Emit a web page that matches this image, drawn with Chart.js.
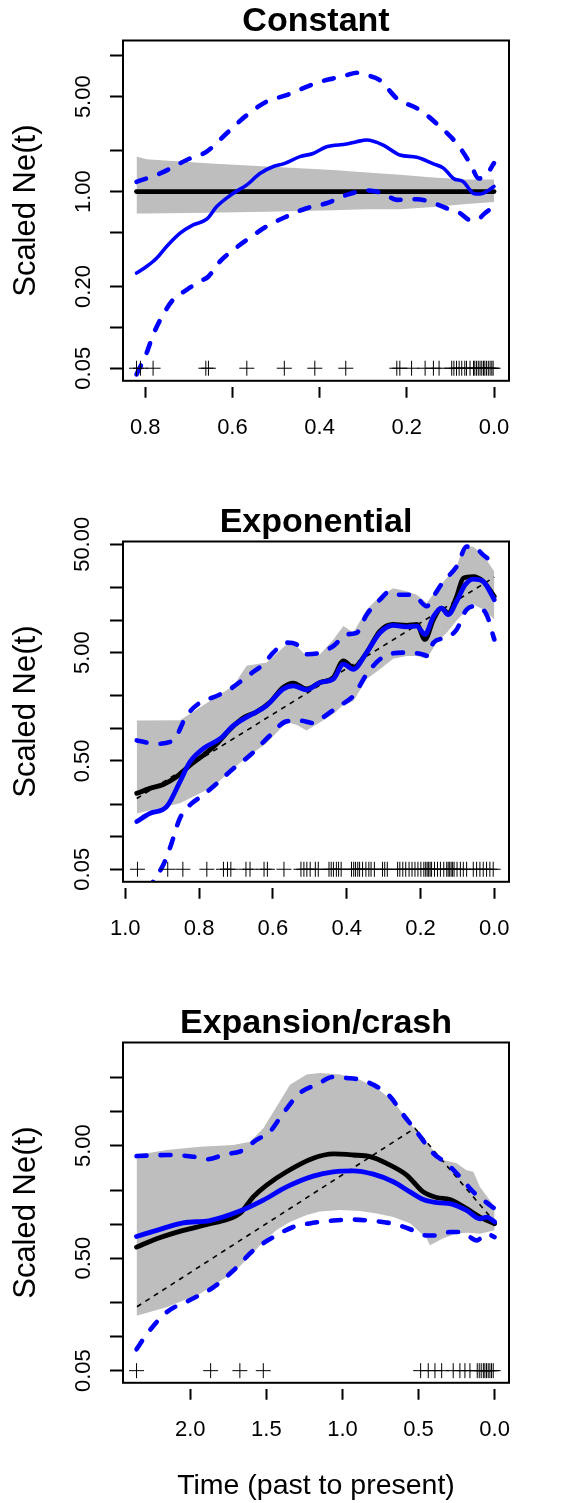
<!DOCTYPE html>
<html>
<head>
<meta charset="utf-8">
<script src="https://cdn.jsdelivr.net/npm/chart.js@4.4.1/dist/chart.umd.min.js"></script>
<style>
html, body { margin: 0; padding: 0; background: #ffffff; }
canvas { display: block; }
</style>
</head>
<body>
<canvas id="c1" width="576" height="501"></canvas>
<canvas id="c2" width="576" height="501"></canvas>
<canvas id="c3" width="576" height="501"></canvas>
<script>
// ---------------- Panel 1: Constant ----------------
const constTitle = 'Constant';
const constXTicks = [0, 0.2, 0.4, 0.6, 0.8];
const constXLabels = ['0.0', '0.2', '0.4', '0.6', '0.8'];
const constYTicks = [0.05, 0.1, 0.2, 0.5, 1, 2, 5, 10];
const constYLabels = ['0.05', '', '0.20', '', '1.00', '', '5.00', ''];
const constBlackT = [0.82, 0];
const constBlack = [1.0, 1.0];
const constBandT = [0.82, 0.797, 0.659, 0.522, 0.369, 0.292, 0.216, 0.139, 0.063, 0.0];
const constBandHi = [1.81, 1.73, 1.62, 1.53, 1.44, 1.38, 1.33, 1.27, 1.23, 1.23];
const constBandLo = [0.69, 0.69, 0.70, 0.71, 0.73, 0.74, 0.74, 0.77, 0.81, 0.84];
const constBlueT = [0.820, 0.797, 0.774, 0.751, 0.720, 0.690, 0.659, 0.636, 0.598, 0.567, 0.537, 0.506, 0.483, 0.445, 0.415, 0.384, 0.338, 0.315, 0.292, 0.254, 0.216, 0.177, 0.139, 0.116, 0.093, 0.070, 0.047, 0.032, 0.017, 0];
const constBlue = [0.251, 0.281, 0.323, 0.394, 0.494, 0.569, 0.626, 0.776, 0.972, 1.12, 1.36, 1.53, 1.60, 1.81, 1.91, 2.14, 2.24, 2.33, 2.40, 2.20, 1.86, 1.79, 1.60, 1.49, 1.25, 1.18, 0.97, 0.96, 1.00, 1.09];
const constHiT = [0.82, 0.766, 0.705, 0.659, 0.613, 0.567, 0.522, 0.476, 0.445, 0.399, 0.369, 0.338, 0.315, 0.292, 0.262, 0.223, 0.170, 0.124, 0.086, 0.055, 0.035, 0.020, 0];
const constHi = [1.18, 1.36, 1.71, 1.97, 2.69, 3.66, 4.59, 5.14, 5.66, 6.44, 6.82, 7.21, 7.51, 7.21, 6.63, 4.86, 3.99, 3.01, 2.27, 1.62, 1.25, 1.30, 1.62];
const constLoT = [0.82, 0.797, 0.782, 0.759, 0.736, 0.705, 0.675, 0.655, 0.629, 0.598, 0.567, 0.522, 0.476, 0.430, 0.384, 0.338, 0.292, 0.254, 0.223, 0.177, 0.147, 0.109, 0.078, 0.055, 0.040, 0.021, 0];
const constLo = [0.045, 0.0646, 0.088, 0.124, 0.160, 0.189, 0.218, 0.237, 0.305, 0.372, 0.441, 0.553, 0.655, 0.754, 0.821, 0.945, 1.02, 0.97, 0.869, 0.878, 0.844, 0.754, 0.693, 0.619, 0.619, 0.693, 0.776];
const constSamples = [0.820, 0.811, 0.782, 0.661, 0.655, 0.567, 0.481, 0.411, 0.340, 0.223, 0.216, 0.189, 0.158, 0.139, 0.126, 0.097, 0.092, 0.086, 0.080, 0.074, 0.067, 0.063, 0.055, 0.047, 0.044, 0.040, 0.036, 0.032, 0.028, 0.024, 0.021, 0.017, 0.013, 0.009, 0.005, 0.002];

// ---------------- Panel 2: Exponential ----------------
const expTitle = 'Exponential';
const expXTicks = [0, 0.2, 0.4, 0.6, 0.8, 1.0];
const expXLabels = ['0.0', '0.2', '0.4', '0.6', '0.8', '1.0'];
const expYTicks = [0.05, 0.1, 0.2, 0.5, 1, 2, 5, 10, 20, 50];
const expYLabels = ['0.05', '', '', '0.50', '', '', '5.00', '', '', '50.00'];
const expTrueT = [0.969, 0];
const expTrue = [0.225, 24.9];
const expBlackT = [0.969, 0.933, 0.897, 0.861, 0.825, 0.789, 0.752, 0.716, 0.680, 0.644, 0.608, 0.572, 0.545, 0.509, 0.472, 0.436, 0.409, 0.382, 0.346, 0.310, 0.274, 0.238, 0.210, 0.188, 0.165, 0.143, 0.125, 0.102, 0.084, 0.057, 0.030, 0];
const expBlack = [0.251, 0.279, 0.303, 0.357, 0.456, 0.564, 0.72, 0.98, 1.25, 1.42, 1.74, 2.39, 2.62, 2.31, 2.65, 2.95, 4.20, 3.64, 5.0, 7.91, 9.1, 8.91, 9.1, 6.62, 10.1, 12.9, 11.6, 16.5, 24.4, 25.2, 22.7, 16.5];
const expBlueT = [0.969, 0.933, 0.888, 0.852, 0.825, 0.789, 0.743, 0.707, 0.671, 0.617, 0.572, 0.545, 0.509, 0.472, 0.436, 0.409, 0.382, 0.346, 0.310, 0.274, 0.238, 0.210, 0.188, 0.165, 0.143, 0.125, 0.102, 0.079, 0.057, 0.030, 0];
const expBlue = [0.138, 0.164, 0.189, 0.321, 0.489, 0.649, 0.802, 1.06, 1.27, 1.62, 2.31, 2.47, 2.27, 2.65, 2.85, 3.91, 3.51, 5.0, 7.62, 8.91, 8.66, 8.79, 7.37, 10.8, 12.9, 11.2, 14.9, 21.2, 23.9, 22.7, 15.4];
const expBandT = [0.969, 0.852, 0.762, 0.707, 0.671, 0.617, 0.563, 0.536, 0.509, 0.472, 0.436, 0.409, 0.382, 0.346, 0.310, 0.274, 0.238, 0.210, 0.183, 0.156, 0.129, 0.102, 0.084, 0.057, 0.030, 0];
const expBandHi = [1.18, 1.19, 1.87, 2.47, 3.78, 4.05, 5.96, 5.76, 4.66, 4.83, 6.62, 8.79, 7.62, 12.5, 16.6, 19.7, 18.4, 17.1, 14.4, 19.1, 24.4, 31.2, 47.6, 47.6, 39.9, 28.1];
const expBandLo = [0.164, 0.203, 0.289, 0.426, 0.54, 0.73, 1.14, 1.08, 0.955, 1.14, 1.36, 1.65, 1.78, 2.85, 3.51, 4.40, 4.66, 4.66, 4.4, 6.2, 7.62, 9.9, 11.5, 13.9, 12.5, 10.1];
const expHiT = [0.969, 0.915, 0.870, 0.834, 0.789, 0.762, 0.716, 0.662, 0.626, 0.599, 0.563, 0.536, 0.509, 0.472, 0.436, 0.400, 0.373, 0.346, 0.310, 0.283, 0.256, 0.220, 0.183, 0.165, 0.138, 0.102, 0.075, 0.057, 0.030, 0];
const expHi = [0.774, 0.721, 0.774, 1.31, 1.80, 1.93, 2.31, 3.16, 3.91, 5.0, 6.18, 5.96, 4.83, 5.0, 5.76, 7.36, 7.62, 11.2, 15.4, 18.4, 17.1, 17.1, 13.4, 16.5, 22.7, 31.2, 47.6, 47.6, 39.9, 33.5];
const expLoT = [0.94, 0.897, 0.879, 0.852, 0.825, 0.789, 0.752, 0.707, 0.662, 0.608, 0.563, 0.527, 0.491, 0.463, 0.427, 0.382, 0.346, 0.310, 0.274, 0.238, 0.201, 0.179, 0.165, 0.129, 0.102, 0.075, 0.048, 0.021, 0];
const expLo = [0.032, 0.055, 0.0785, 0.148, 0.196, 0.242, 0.310, 0.426, 0.564, 0.859, 1.16, 1.18, 1.12, 1.27, 1.56, 2.0, 3.16, 4.34, 4.93, 5.0, 4.89, 4.66, 6.18, 6.87, 8.18, 12.5, 13.4, 11.2, 6.62];
const expSamples = [0.967, 0.885, 0.844, 0.779, 0.734, 0.723, 0.714, 0.673, 0.662, 0.624, 0.615, 0.570, 0.524, 0.516, 0.508, 0.499, 0.485, 0.477, 0.448, 0.442, 0.436, 0.428, 0.422, 0.415, 0.387, 0.381, 0.376, 0.370, 0.365, 0.357, 0.348, 0.340, 0.334, 0.325, 0.303, 0.297, 0.290, 0.262, 0.256, 0.248, 0.240, 0.231, 0.223, 0.215, 0.207, 0.199, 0.191, 0.186, 0.182, 0.178, 0.174, 0.170, 0.162, 0.154, 0.146, 0.137, 0.129, 0.125, 0.121, 0.117, 0.113, 0.109, 0.101, 0.092, 0.084, 0.075, 0.057, 0.048, 0.039, 0.030, 0.021, 0.012, 0.003];

// ---------------- Panel 3: Expansion/crash ----------------
const ecTitle = 'Expansion/crash';
const ecXTicks = [0, 0.5, 1.0, 1.5, 2.0];
const ecXLabels = ['0.0', '0.5', '1.0', '1.5', '2.0'];
const ecYTicks = [0.05, 0.1, 0.2, 0.5, 1, 2, 5, 10, 20];
const ecYLabels = ['0.05', '', '', '0.50', '', '', '5.00', '', ''];
const ecTrueT = [2.35, 0.524, 0];
const ecTrue = [0.185, 7.14, 1.05];
const ecBlackT = [2.353, 2.221, 2.046, 1.871, 1.674, 1.586, 1.498, 1.367, 1.192, 1.060, 0.929, 0.819, 0.710, 0.578, 0.469, 0.381, 0.294, 0.184, 0.096, 0];
const ecBlack = [0.627, 0.744, 0.884, 1.01, 1.25, 1.75, 2.23, 2.93, 3.86, 4.22, 4.13, 3.99, 3.48, 2.74, 1.94, 1.73, 1.66, 1.38, 1.16, 1.01];
const ecBlueT = [2.353, 2.221, 2.046, 1.871, 1.674, 1.520, 1.367, 1.192, 1.060, 0.929, 0.797, 0.666, 0.556, 0.469, 0.359, 0.294, 0.184, 0.096, 0.053, 0];
const ecBlue = [0.780, 0.883, 1.03, 1.08, 1.31, 1.64, 2.15, 2.68, 2.93, 2.99, 2.79, 2.39, 1.94, 1.66, 1.55, 1.53, 1.33, 1.12, 1.16, 1.05];
const ecBandT = [2.353, 2.156, 1.936, 1.717, 1.608, 1.520, 1.433, 1.345, 1.235, 1.148, 1.016, 0.885, 0.775, 0.666, 0.556, 0.447, 0.425, 0.337, 0.250, 0.184, 0.140, 0.096, 0];
const ecBandHi = [4.13, 4.57, 4.90, 5.07, 5.43, 7.14, 11.1, 17.4, 21.4, 22.1, 21.4, 19.3, 16.3, 12.4, 7.91, 5.25, 4.9, 3.72, 3.48, 3.03, 2.93, 2.15, 1.43];
const ecBandLo = [0.154, 0.183, 0.241, 0.37, 0.52, 0.70, 0.89, 1.05, 1.21, 1.30, 1.34, 1.31, 1.25, 1.16, 1.02, 0.75, 0.65, 0.75, 0.83, 0.843, 0.835, 0.825, 0.883];
const ecHiT = [2.353, 2.156, 1.980, 1.893, 1.761, 1.674, 1.564, 1.476, 1.389, 1.279, 1.170, 1.060, 0.973, 0.885, 0.797, 0.688, 0.600, 0.513, 0.403, 0.315, 0.228, 0.140, 0.074, 0];
const ecHi = [4.04, 4.13, 3.99, 3.78, 4.22, 4.42, 5.62, 6.67, 9.72, 14.7, 17.4, 20.4, 20.0, 19.3, 17.4, 13.7, 9.4, 6.67, 4.27, 3.48, 2.64, 1.94, 1.64, 1.38];
const ecLoT = [2.353, 2.287, 2.156, 2.002, 1.849, 1.717, 1.586, 1.454, 1.323, 1.192, 1.060, 0.929, 0.797, 0.666, 0.534, 0.447, 0.381, 0.294, 0.228, 0.162, 0.118, 0.053, 0];
const ecLo = [0.0775, 0.105, 0.165, 0.212, 0.275, 0.388, 0.585, 0.769, 0.946, 1.03, 1.08, 1.10, 1.07, 1.01, 0.883, 0.796, 0.796, 0.853, 0.853, 0.769, 0.719, 0.825, 0.769];
const ecSamples = [2.353, 1.866, 1.674, 1.520, 0.486, 0.436, 0.392, 0.348, 0.272, 0.228, 0.195, 0.162, 0.114, 0.101, 0.088, 0.074, 0.064, 0.053, 0.042, 0.031, 0.020, 0.009];

const SAMPLE_Y = 0.05;   // sampling times are marked along the 0.05 level
const yAxisTitle = 'Scaled Ne(t)';
const xAxisTitle = 'Time (past to present)';

// ---------------- helpers ----------------
Chart.defaults.font.family = "'Liberation Sans', Arial, Helvetica, sans-serif";
Chart.defaults.color = '#000000';

function pts(T, V) { return T.map((t, i) => ({ x: t, y: V[i] })); }

const BLUE = '#0000ff';
const GRAY = '#bebebe';

const boxPlugin = {
  id: 'plotBox',
  afterDatasetsDraw(chart) {
    const a = chart.chartArea, ctx = chart.ctx;
    ctx.save();
    ctx.strokeStyle = '#000000';
    ctx.lineWidth = 2;
    ctx.strokeRect(a.left, a.top, a.right - a.left, a.bottom - a.top);
    ctx.restore();
  }
};

function lineDs(data, color, width, dash, order) {
  return {
    type: 'line', data: data, borderColor: color, borderWidth: width,
    borderDash: dash || [], borderCapStyle: 'round', borderJoinStyle: 'round',
    pointRadius: 0, pointHoverRadius: 0, fill: false,
    cubicInterpolationMode: 'monotone', clip: 0, order: order
  };
}

function makePanel(id, p) {
  const datasets = [];
  datasets.push({ type: 'line', data: pts(p.bandT, p.bandLo), borderColor: 'rgba(0,0,0,0)', borderWidth: 0, pointRadius: 0, fill: false, tension: 0, clip: 0, order: 10 });
  datasets.push({ type: 'line', data: pts(p.bandT, p.bandHi), borderColor: 'rgba(0,0,0,0)', borderWidth: 0, pointRadius: 0, fill: '-1', backgroundColor: GRAY, tension: 0, clip: 0, order: 10 });
  if (p.trueT) datasets.push(Object.assign(lineDs(pts(p.trueT, p.trueV), '#000000', 1.6, [5, 5], 6), { cubicInterpolationMode: 'default', tension: 0, borderCapStyle: 'butt' }));
  datasets.push(lineDs(pts(p.blackT, p.black), '#000000', 4.8, null, 5));
  datasets.push(lineDs(pts(p.blueT, p.blue), BLUE, p.blueW, null, 4));
  datasets.push(lineDs(pts(p.hiT, p.hi), BLUE, 4.6, [10, 14], 3));
  datasets.push(lineDs(pts(p.loT, p.lo), BLUE, 4.6, [10, 14], 3));
  datasets.push({
    type: 'line', data: p.samples.map(t => ({ x: t, y: SAMPLE_Y })), showLine: false,
    pointStyle: 'cross', pointRadius: 7.5, pointHoverRadius: 7.5, pointBorderWidth: 1,
    pointBorderColor: '#000000', borderColor: '#000000', clip: 0, order: 1
  });

  return new Chart(document.getElementById(id), {
    type: 'line',
    data: { datasets: datasets },
    plugins: [boxPlugin],
    options: {
      responsive: false, animation: false, devicePixelRatio: 1, events: [],
      layout: { padding: { left: 0, right: 67, top: 0, bottom: 0 }, autoPadding: false },
      plugins: { legend: { display: false }, tooltip: { enabled: false }, title: { display: false } },
      scales: {
        x: {
          type: 'linear', position: 'bottom', reverse: true, min: p.xMin, max: p.xMax, bounds: 'data',
          afterBuildTicks: s => { s.ticks = p.xTicks.map(v => ({ value: v })); },
          afterFit: s => { s.height = 501 - 380.8; },
          grid: { display: true, drawOnChartArea: false, drawTicks: true, tickLength: 17, tickWidth: 2, tickColor: '#000000', tickBorderDash: [0, 6, 11, 0] },
          border: { display: false },
          ticks: {
            autoSkip: false, maxRotation: 0, minRotation: 0, padding: 16.8, color: '#000000', font: { size: 22 },
            callback: (v) => { const i = p.xTicks.findIndex(t => Math.abs(t - v) < 1e-9); return i >= 0 ? p.xLabels[i] : ''; }
          },
          title: { display: !!p.xTitle, text: p.xTitle || '', font: { size: 28.5 }, color: '#000000', padding: { top: 0, bottom: 0 } }
        },
        xTop: {
          type: 'linear', position: 'top', display: true, min: 0, max: 1,
          afterFit: s => { s.height = 40.5; },
          grid: { display: false }, border: { display: false }, ticks: { display: false },
          title: { display: true, text: p.title, font: { size: 34, weight: 'bold' }, color: '#000000', padding: { top: 1.1, bottom: 0 } }
        },
        y: {
          type: 'logarithmic', position: 'left', min: p.yMin, max: p.yMax, bounds: 'data',
          afterBuildTicks: s => { s.ticks = p.yTicks.map(v => ({ value: v })); },
          afterFit: s => { s.width = 123; },
          grid: { display: true, drawOnChartArea: false, drawTicks: true, tickLength: 13, tickWidth: 2, tickColor: '#000000' },
          border: { display: false },
          ticks: {
            autoSkip: false, minRotation: 90, maxRotation: 90, crossAlign: 'center', padding: p.yPad, color: '#000000', font: { size: 22 },
            callback: (v) => { const i = p.yTicks.findIndex(t => Math.abs(t - v) < 1e-9 * Math.max(1, t)); return i >= 0 ? p.yLabels[i] : ''; }
          },
          title: { display: true, text: yAxisTitle, font: { size: 31 }, color: '#000000', padding: { top: 8.3, bottom: 0 } }
        }
      }
    }
  });
}

makePanel('c1', {
  title: constTitle, xMin: -0.0344, xMax: 0.851, xTicks: constXTicks, xLabels: constXLabels,
  yMin: 0.0404, yMax: 12.97, yTicks: constYTicks, yLabels: constYLabels, yPad: 5,
  bandT: constBandT, bandHi: constBandHi, bandLo: constBandLo,
  blackT: constBlackT, black: constBlack, blueT: constBlueT, blue: constBlue, blueW: 3.6,
  hiT: constHiT, hi: constHi, loT: constLoT, lo: constLo, samples: constSamples
});

makePanel('c2', {
  title: expTitle, xMin: -0.0398, xMax: 1.0062, xTicks: expXTicks, xLabels: expXLabels,
  yMin: 0.0383, yMax: 53.1, yTicks: expYTicks, yLabels: expYLabels, yPad: 0,
  bandT: expBandT, bandHi: expBandHi, bandLo: expBandLo,
  trueT: expTrueT, trueV: expTrue,
  blackT: expBlackT, black: expBlack, blueT: expBlueT, blue: expBlue, blueW: 4.8,
  hiT: expHiT, hi: expHi, loT: expLoT, lo: expLo, samples: expSamples
});

makePanel('c3', {
  title: ecTitle, xMin: -0.0946, xMax: 2.442, xTicks: ecXTicks, xLabels: ecXLabels,
  yMin: 0.039, yMax: 41.3, yTicks: ecYTicks, yLabels: ecYLabels, yPad: 5,
  xTitle: xAxisTitle,
  bandT: ecBandT, bandHi: ecBandHi, bandLo: ecBandLo,
  trueT: ecTrueT, trueV: ecTrue,
  blackT: ecBlackT, black: ecBlack, blueT: ecBlueT, blue: ecBlue, blueW: 4.8,
  hiT: ecHiT, hi: ecHi, loT: ecLoT, lo: ecLo, samples: ecSamples
});
</script>
</body>
</html>
